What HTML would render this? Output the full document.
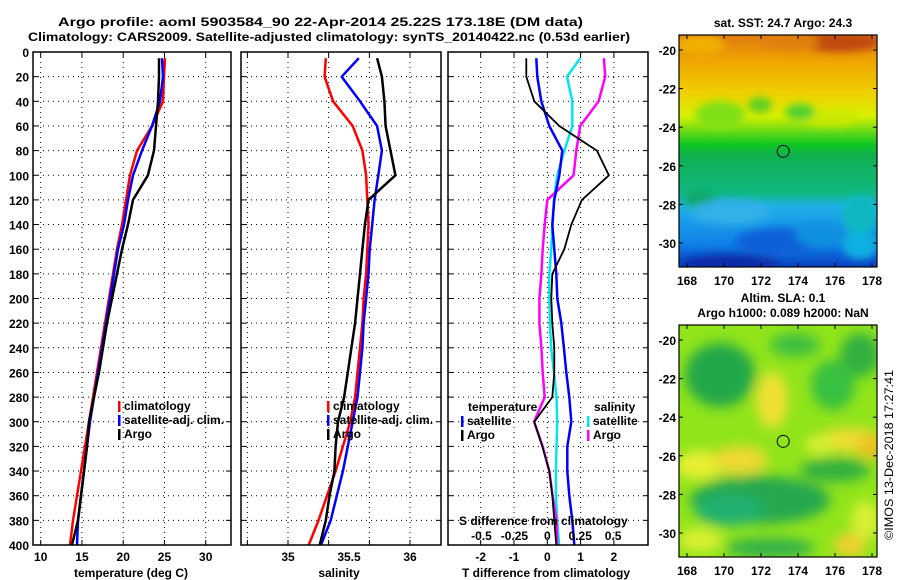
<!DOCTYPE html>
<html><head><meta charset="utf-8"><style>
html,body{margin:0;padding:0;background:#fff}
svg{display:block}
text{font-family:"Liberation Sans",sans-serif;font-weight:bold;font-size:12px;fill:#000}
</style></head><body>
<svg id="chart" width="900" height="580" viewBox="0 0 900 580" xmlns="http://www.w3.org/2000/svg">
<defs>
<filter id="blur1" x="-20%" y="-20%" width="140%" height="140%"><feGaussianBlur stdDeviation="4"/></filter>
<filter id="blur2" x="-20%" y="-20%" width="140%" height="140%"><feGaussianBlur stdDeviation="6"/></filter>
<clipPath id="clipM1"><rect x="679" y="35" width="198" height="232"/></clipPath>
<clipPath id="clipM2"><rect x="679" y="325" width="198" height="232"/></clipPath>
<linearGradient id="sstGrad" x1="0" y1="0" x2="0" y2="1">
<stop offset="0" stop-color="#e07a10"/><stop offset="0.12" stop-color="#f0a800"/><stop offset="0.25" stop-color="#f0d000"/>
<stop offset="0.35" stop-color="#d8f000"/><stop offset="0.42" stop-color="#60d818"/><stop offset="0.47" stop-color="#10c820"/>
<stop offset="0.52" stop-color="#10b050"/><stop offset="0.68" stop-color="#10b880"/><stop offset="0.74" stop-color="#20b0e8"/>
<stop offset="0.9" stop-color="#1080e8"/><stop offset="1" stop-color="#0a40c0"/>
</linearGradient>
</defs>
<text x="58" y="26" font-size="14" textLength="525" lengthAdjust="spacingAndGlyphs">Argo profile: aoml 5903584_90 22-Apr-2014 25.22S 173.18E (DM data)</text>
<text x="28" y="41" font-size="14" textLength="602" lengthAdjust="spacingAndGlyphs">Climatology: CARS2009. Satellite-adjusted climatology: synTS_20140422.nc (0.53d earlier)</text>
<g id="panels"></g>
<g id="maps"></g>
<text transform="translate(893,540) rotate(-90)" style="font-weight:normal" font-size="12" textLength="170" lengthAdjust="spacingAndGlyphs">©IMOS 13-Dec-2018 17:27:41</text>
</svg>
<script>
// ===== data =====
const depths = [5,20,40,60,80,100,120,140,160,180,200,220,240,260,280,300,320,340,360,380,400];
const depthTicks = [0,20,40,60,80,100,120,140,160,180,200,220,240,260,280,300,320,340,360,380,400];
// temperature panel (deg C)
const tempClim = [25.07,24.95,24.82,23.49,21.67,20.82,20.34,19.85,19.25,18.76,18.28,17.79,17.31,16.82,16.34,15.85,15.37,14.88,14.40,13.92,13.55];
const tempSat  = [24.70,24.82,24.46,23.49,22.28,21.19,20.58,20.10,19.37,18.88,18.40,17.91,17.43,16.95,16.46,15.98,15.61,15.25,14.88,14.52,14.40];
const tempArgo = [24.34,24.34,24.22,23.98,23.73,23.00,21.19,20.58,19.85,19.25,18.64,18.04,17.55,17.07,16.46,15.85,15.61,15.25,14.88,14.52,13.79];
const tempTicks = [10,15,20,25,30];
// salinity panel
const salClim = [35.31,35.30,35.37,35.53,35.61,35.64,35.65,35.66,35.65,35.64,35.62,35.61,35.59,35.57,35.55,35.51,35.45,35.39,35.32,35.25,35.17];
const salSat  = [35.58,35.44,35.59,35.73,35.77,35.74,35.71,35.69,35.67,35.66,35.64,35.62,35.61,35.59,35.57,35.53,35.49,35.45,35.40,35.35,35.27];
const salArgo = [35.73,35.77,35.79,35.80,35.84,35.88,35.66,35.63,35.61,35.59,35.57,35.55,35.52,35.49,35.46,35.41,35.39,35.38,35.34,35.31,35.26];
const salTickLabels = [35,35.5,36];
const salGrid = [34.667,35,35.333,35.667,36];
// difference panel
const dTSat  = [-0.33,-0.30,-0.18,0.06,0.45,0.36,0.21,0.15,0.21,0.27,0.30,0.42,0.50,0.57,0.66,0.72,0.60,0.60,0.66,0.75,0.81];
const dTArgo = [-0.63,-0.63,-0.39,0.36,1.49,1.85,1.04,0.72,0.51,0.15,0.12,0.15,0.21,0.21,0.15,-0.39,-0.15,0.06,0.15,0.21,0.27];
const dSSat  = [0.25,0.15,0.19,0.19,0.13,0.075,0.05,0.04,0.03,0.015,0.015,0.02,0.03,0.05,0.07,0.075,0.07,0.065,0.065,0.075,0.09];
const dSArgo = [0.43,0.44,0.39,0.25,0.22,0.20,0.0,-0.02,-0.035,-0.045,-0.06,-0.06,-0.045,-0.035,-0.02,-0.10,-0.035,0.015,0.04,0.07,0.075];
const dTTicks = [-2,-1,0,1,2];
const dSTicks = [-0.5,-0.25,0,0.25,0.5];
const dSTickLabels = ["-0.5","-0.25","0","0.25","0.5"];
const lonTicks = [168,170,172,174,176,178];
const latTicks = [-20,-22,-24,-26,-28,-30];

// ===== helpers =====
const NS="http://www.w3.org/2000/svg";
function mk(tag,attrs,parent){const e=document.createElementNS(NS,tag);for(const k in attrs)e.setAttribute(k,attrs[k]);parent.appendChild(e);return e;}
const Y0=52,Y1=545;
const yD = d => Y0 + d*(Y1-Y0)/400;
const xT = t => 40.7 + (t-10)*8.25;
const xS = s => 288 + (s-35)*122;
const xDT = t => 547.3 + t*33.3;
const xDS = s => 547.3 + s*131.6;
const panels=document.getElementById('panels');

function frame(x0,x1,name){
  const g=mk('g',{},panels);
  
  
  depthTicks.forEach(d=>{
    const y=yD(d);
    if(d>0&&d<400){const l=mk('line',{x1:x0,x2:x1,y1:y,y2:y,stroke:'#000','stroke-width':1,'stroke-dasharray':'1,4'},g);
      
      }
    mk('line',{x1:x0,x2:x0+5,y1:y,y2:y,stroke:'#000'},g);
    mk('line',{x1:x1-5,x2:x1,y1:y,y2:y,stroke:'#000'},g);
  });
  return g;
}
function vgrid(g,xs){
  xs.forEach(x=>{
    const l=mk('line',{x1:x,x2:x,y1:Y0,y2:Y1,stroke:'#000','stroke-width':1,'stroke-dasharray':'1,4'},g);
    
    
    mk('line',{x1:x,x2:x,y1:Y1-5,y2:Y1,stroke:'#000'},g);
    mk('line',{x1:x,x2:x,y1:Y0,y2:Y0+5,stroke:'#000'},g);
  });
}
function border(g,x0,x1){
  const r=mk('rect',{x:x0,y:Y0,width:x1-x0,height:Y1-Y0,fill:'none',stroke:'#000','stroke-width':1.5},g);
  
  
}
function series(g,vals,xf,color,w,name){
  const pts=vals.map((v,i)=>xf(v).toFixed(1)+','+yD(depths[i]).toFixed(1)).join(' ');
  const p=mk('polyline',{points:pts,fill:'none',stroke:color,'stroke-width':w,'stroke-linejoin':'round'},g);
  
  
}
function txt(g,x,y,s,anchor,name,extra){
  const t=mk('text',Object.assign({x:x,y:y,'text-anchor':anchor||'start'},extra||{}),g);
  t.textContent=s;
  
  
  return t;
}
function legendEntry(g,x,y,color,label){
  const r=mk('rect',{x:x,y:y-9,width:2.5,height:11,fill:color},g);
  
  
  txt(g,x+6,y,label,'start','legend-entry');
}

// panel 1: temperature
let g1=frame(33,231,'temperature-panel');
vgrid(g1,tempTicks.map(xT));
series(g1,tempClim,xT,'#f00',2.5,'temp-climatology-line');
series(g1,tempSat,xT,'#00f',2.5,'temp-satellite-line');
series(g1,tempArgo,xT,'#000',2.5,'temp-argo-line');
border(g1,33,231);
depthTicks.forEach(d=>txt(g1,29,yD(d)+5,String(d),'end','depth-tick-label'));
tempTicks.forEach(t=>txt(g1,xT(t),561,String(t),'middle','temp-tick-label'));
txt(g1,131,577,'temperature (deg C)','middle','x-axis-title-temperature');
legendEntry(g1,118,410,'#f00','climatology');
legendEntry(g1,118,424,'#00f','satellite-adj. clim.');
legendEntry(g1,118,438,'#000','Argo');

// panel 2: salinity
let g2=frame(241,441,'salinity-panel');
vgrid(g2,salGrid.map(xS));
series(g2,salClim,xS,'#f00',2.5,'sal-climatology-line');
series(g2,salSat,xS,'#00f',2.5,'sal-satellite-line');
series(g2,salArgo,xS,'#000',2.5,'sal-argo-line');
border(g2,241,441);
salTickLabels.forEach(s=>txt(g2,xS(s),561,String(s),'middle','sal-tick-label'));
txt(g2,339,577,'salinity','middle','x-axis-title-salinity');
legendEntry(g2,327,410,'#f00','climatology');
legendEntry(g2,327,424,'#00f','satellite-adj. clim.');
legendEntry(g2,327,438,'#000','Argo');

// panel 3: differences
let g3=frame(448,648,'difference-panel');
vgrid(g3,dTTicks.map(xDT));
series(g3,dSSat,xDS,'#00e5ee',2.5,'dsal-satellite-line');
series(g3,dSArgo,xDS,'#f0f',2.5,'dsal-argo-line');
series(g3,dTSat,xDT,'#00f',2.5,'dtemp-satellite-line');
series(g3,dTArgo,xDT,'#000',1.8,'dtemp-argo-line');
border(g3,448,648);
dTTicks.forEach(t=>txt(g3,xDT(t),561,String(t),'middle','dtemp-tick-label'));
txt(g3,546,577,'T difference from climatology','middle','x-axis-title-tdiff');
txt(g3,459,525,'S difference from climatology','start','s-axis-title-sdiff');
dSTicks.forEach((s,i)=>txt(g3,xDS(s),540,dSTickLabels[i],'middle','dsal-tick-label'));
txt(g3,468,411,'temperature','start','legend-title-temperature');
legendEntry(g3,461,425,'#00f','satellite');
legendEntry(g3,461,439,'#000','Argo');
txt(g3,594,411,'salinity','start','legend-title-salinity');
legendEntry(g3,587,425,'#00e5ee','satellite');
legendEntry(g3,587,439,'#f0f','Argo');

// ===== maps =====
const maps=document.getElementById('maps');
const lonX = l => 687 + (l-168)*18.5;
function latY(lat,top){return top + 15 + (-20-lat)*19.3;}
function mapAxes(top,name){
  const g=mk('g',{},maps);
  
  
  mk('rect',{x:679,y:top,width:198,height:232,fill:'none',stroke:'#000','stroke-width':1.2},g);
  lonTicks.forEach(l=>{const x=lonX(l);
    mk('line',{x1:x,x2:x,y1:top,y2:top+4,stroke:'#000'},g);
    mk('line',{x1:x,x2:x,y1:top+228,y2:top+232,stroke:'#000'},g);
    txt(g,x,top+250,String(l),'middle','lon-tick-label',{'font-size':13});});
  latTicks.forEach(la=>{const y=latY(la,top);
    mk('line',{x1:679,x2:683,y1:y,y2:y,stroke:'#000'},g);
    mk('line',{x1:873,x2:877,y1:y,y2:y,stroke:'#000'},g);
    txt(g,676,y+5,String(la),'end','lat-tick-label',{'font-size':13});});
  const c=mk('circle',{cx:lonX(173.2),cy:latY(-25.25,top),r:6,fill:'none',stroke:'#000','stroke-width':1},g);
  
  
}
// map 1 SST
let m1=mk('g',{'clip-path':'url(#clipM1)'},maps);


mk('rect',{x:679,y:35,width:198,height:232,fill:'url(#sstGrad)'},m1);
let m1b=mk('g',{filter:'url(#blur1)'},m1);
[[840,42,40,10,'#c04810'],[700,45,25,10,'#f0b000'],[790,42,30,8,'#e08010'],[720,115,25,14,'#80e018'],[760,105,12,8,'#60d020'],
 [830,118,30,8,'#c8e800'],[800,112,15,8,'#50d030'],[700,200,15,10,'#10a868'],[730,212,40,12,'#30b0e8'],[860,215,18,20,'#10b8c0'],
 [780,242,45,14,'#0a60d8'],[820,235,25,12,'#1090e0'],[860,245,18,14,'#10b0e0'],[730,263,50,8,'#0a2ca8']]
 .forEach(e=>mk('ellipse',{cx:e[0],cy:e[1],rx:e[2],ry:e[3],fill:e[4]},m1b));
mapAxes(35,'sst-map');
txt(maps,783,27,'sat. SST: 24.7 Argo: 24.3','middle','sst-map-title');
// map 2 SLA
let m2=mk('g',{'clip-path':'url(#clipM2)'},maps);


mk('rect',{x:679,y:325,width:198,height:232,fill:'#90e41a'},m2);
let m2b=mk('g',{filter:'url(#blur2)'},m2);
[[720,375,35,32,'#22a848'],[860,355,20,22,'#30b040'],[795,345,25,12,'#40c040'],[772,400,16,28,'#f0e030'],[833,385,22,25,'#38c040'],
 [700,465,25,14,'#e8f030'],[740,460,28,14,'#f0d830'],[850,440,32,12,'#f0dc30'],[870,447,12,12,'#f0c020'],[820,445,15,10,'#d8f030'],
 [760,500,70,24,'#28a850'],[730,510,35,16,'#20b070'],[835,470,35,12,'#30b040'],[865,520,14,20,'#d8f030'],
 [850,545,16,12,'#f0d030'],[700,540,22,12,'#d8f030'],[770,548,45,10,'#30b048']]
 .forEach(e=>mk('ellipse',{cx:e[0],cy:e[1],rx:e[2],ry:e[3],fill:e[4]},m2b));
mapAxes(325,'sla-map');
txt(maps,783,302,'Altim. SLA: 0.1','middle','sla-map-title-1');
txt(maps,783,317,'Argo h1000: 0.089 h2000: NaN','middle','sla-map-title-2');
</script>
</body></html>
